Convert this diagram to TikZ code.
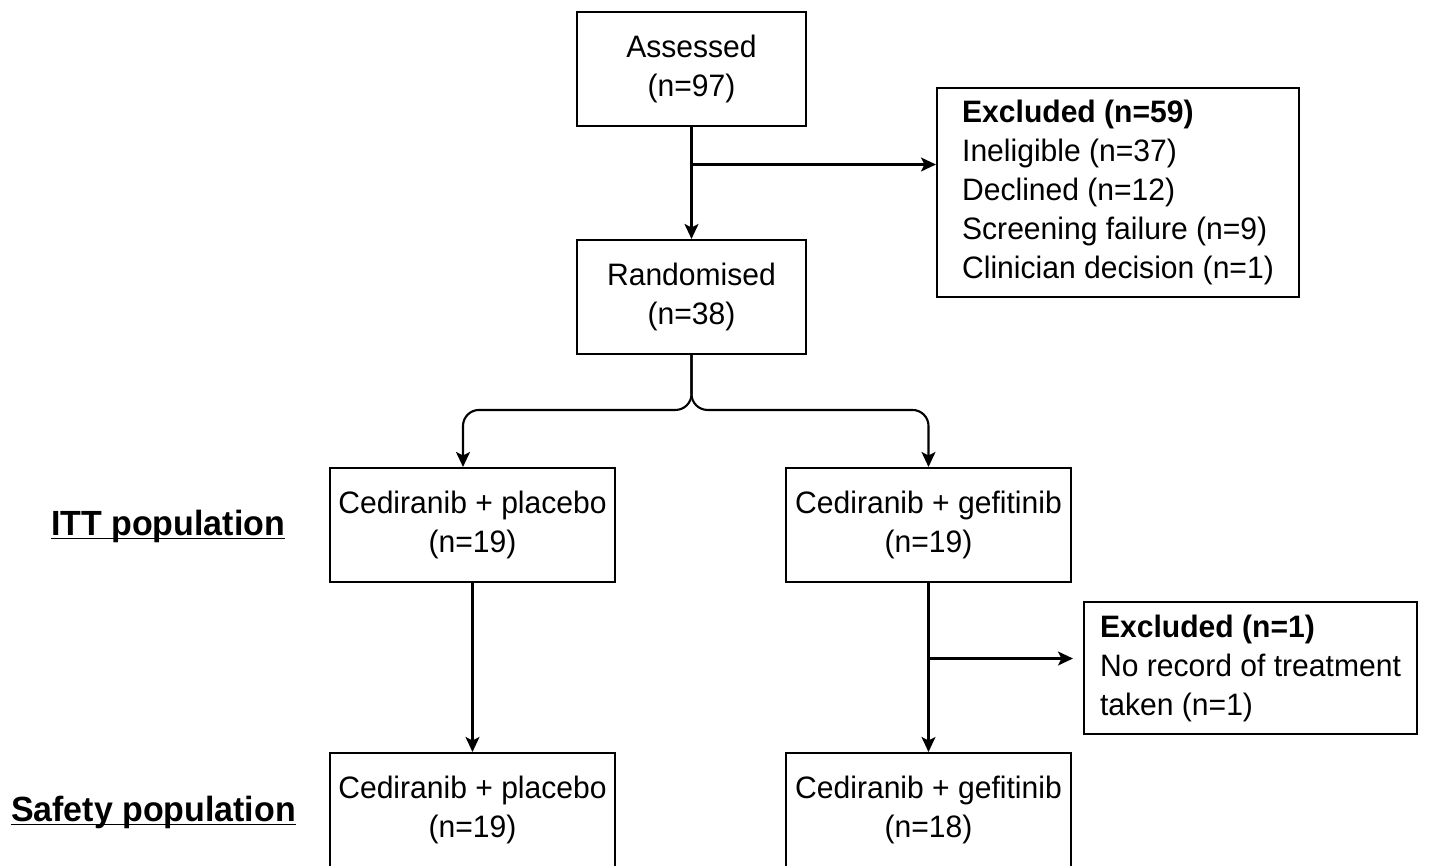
\documentclass[tikz,border=0pt]{standalone}
\usepackage{fontspec}
\setmainfont{Liberation Sans}[FakeStretch=0.97]
\usetikzlibrary{arrows.meta,calc}
\begin{document}
\begin{tikzpicture}[x=1pt,y=-1pt,
  box/.style={draw=black,line width=2.1pt,rectangle,inner sep=0pt,
    font=\fontsize{31}{39}\selectfont,fill=white},
  cbox/.style={box,align=center},
  lbox/.style={box,align=left},
  arr/.style={draw=black,line width=2.1pt,-{Stealth[length=15pt,width=14pt,inset=3.5pt]}},
  poplabel/.style={inner sep=0pt,anchor=base,font=\fontsize{35}{40}\selectfont\bfseries},
  uline/.style={draw=black,line width=1.8pt}
]
\clip (0,0) rectangle (1438,865);
\useasboundingbox (0,0) rectangle (1438,865);
\fill[white] (0,0) rectangle (1438,865);

\node[cbox,minimum width=229pt,minimum height=114pt] (assessed) at (691.5,69) {Assessed\\(n=97)};
\node[cbox,minimum width=229pt,minimum height=114pt] (rand) at (691.5,297) {Randomised\\(n=38)};
\node[lbox,minimum width=362pt,minimum height=209pt] (excl1) at (1118,192.5)
  {\textbf{Excluded (n=59)}\\Ineligible (n=37)\\Declined (n=12)\\Screening failure (n=9)\\Clinician decision (n=1)};

\node[cbox,minimum width=285pt,minimum height=114pt] (ittp) at (472.5,525) {Cediranib + placebo\\(n=19)};
\node[cbox,minimum width=285pt,minimum height=114pt] (ittg) at (928.5,525) {Cediranib + gefitinib\\(n=19)};
\node[lbox,minimum width=333pt,minimum height=132pt] (excl2) at (1250.5,668)
  {\textbf{Excluded (n=1)}\\No record of treatment\\taken (n=1)};

\node[cbox,minimum width=285pt,minimum height=114pt] (safp) at (472.5,810) {Cediranib + placebo\\(n=19)};
\node[cbox,minimum width=285pt,minimum height=114pt] (safg) at (928.5,810) {Cediranib + gefitinib\\(n=18)};

\node[poplabel] (itt) at (168,535) {ITT population};
\node[poplabel] (safety) at (153.5,821) {Safety population};
\draw[uline] ([yshift=-3.5pt]itt.base west) -- ([yshift=-3.5pt]itt.base east);
\draw[uline] ([yshift=-3.5pt]safety.base west) -- ([yshift=-3.5pt]safety.base east);

% connectors
\draw[arr] (assessed) -- (rand);
\coordinate (b1) at (691.5,164.5);
\draw[arr] (b1) -- (b1 -| excl1.west);

\draw[arr,rounded corners=16pt] (rand.south) |- ($(ittp.north)+(-9.5,-57)$) -- ([xshift=-9.5pt]ittp.north);
\draw[arr,rounded corners=16pt] (rand.south) |- ($(ittg.north)+(0,-57)$) -- (ittg.north);

\draw[arr] (ittp) -- (safp);
\draw[arr] (ittg) -- (safg);
\coordinate (b2) at (928.5,658.5);
\draw[arr,shorten >=10pt] (b2) -- (b2 -| excl2.west);
\end{tikzpicture}
\end{document}
